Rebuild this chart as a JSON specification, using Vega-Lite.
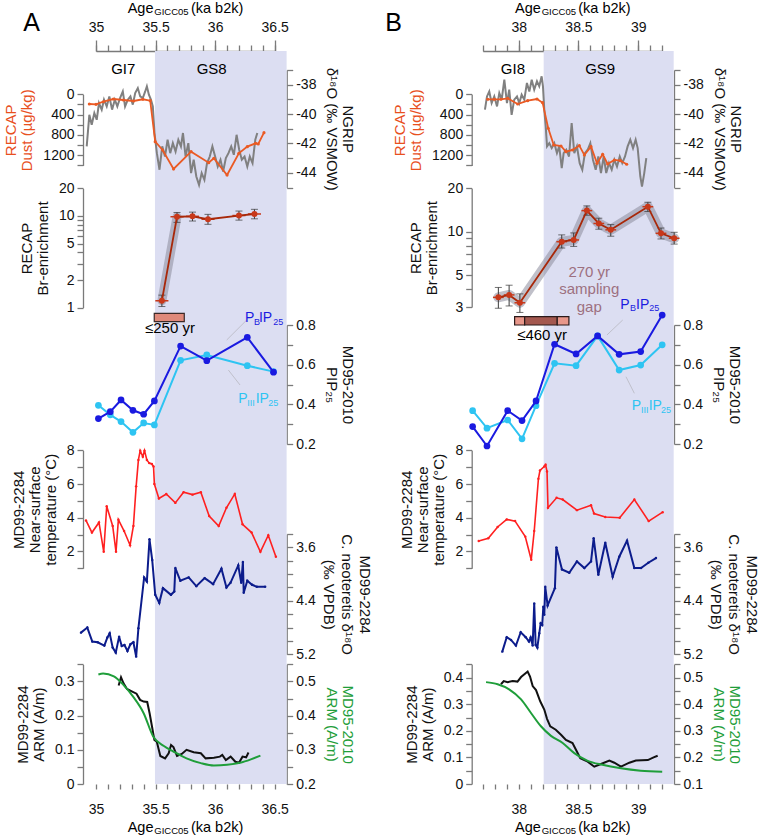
{
"$schema":"https://vega.github.io/schema/vega-lite/v6.json",
"width":591,"height":733,
"autosize":{"type":"none"},
"padding":{"left":83,"top":51,"right":88,"bottom":52},
"background":"white",
"config":{"view":{"stroke":null},
"axis":{"grid":false,"labelFont":"Liberation Sans","titleFont":"Liberation Sans","labelFontSize":14,"titleFontSize":15,"titleFontWeight":"normal","labelColor":"#111","titleColor":"#111","domainColor":"#7a7a7a","tickColor":"#7a7a7a","domainWidth":1.3,"tickWidth":1.3,"tickSize":6,"labelPadding":3,"titlePadding":8,"labelFlush":false,"labelOverlap":false,"labelBound":false,"titleLineHeight":16},
"text":{"font":"Liberation Sans"}},
"resolve":{"scale":{"x":"independent","y":"independent"},"axis":{"x":"independent","y":"independent"}},
"layer":[
{"data":{"values":[{"x":35.495,"x2":36.6}]},"mark":{"type":"rect","color":"#dcdef2"},"encoding":{"x":{"field":"x","type":"quantitative","scale":{"domain":[35,36.5],"range":[13,191.7],"nice":false,"zero":false},"axis":null},"x2":{"field":"x2"}}},
{"data":{"values":[{"x":38.209,"x2":39.296}]},"mark":{"type":"rect","color":"#dcdef2"},"encoding":{"x":{"field":"x","type":"quantitative","scale":{"domain":[37.7,39.2],"range":[399.8,579.2],"nice":false,"zero":false},"axis":null},"x2":{"field":"x2"}}},

{"data":{"values":[{"t":"A","x":34.46,"y":-33.82}]},"mark":{"type":"text","fontSize":25,"baseline":"middle","align":"center"},"encoding":{"x":{"field":"x","type":"quantitative","scale":{"domain":[35,36.5],"range":[13,191.7],"nice":false,"zero":false},"axis":null},"y":{"field":"y","type":"quantitative","scale":{"domain":[-45,-37],"range":[136.5,19],"nice":false,"zero":false},"axis":null},"text":{"field":"t"}}},
{"data":{"values":[{"t":"B","x":36.954,"y":-33.82}]},"mark":{"type":"text","fontSize":25,"baseline":"middle","align":"center"},"encoding":{"x":{"field":"x","type":"quantitative","scale":{"domain":[37.7,39.2],"range":[399.8,579.2],"nice":false,"zero":false},"axis":null},"y":{"field":"y","type":"quantitative","scale":{"domain":[-45,-37],"range":[136.5,19],"nice":false,"zero":false},"axis":null},"text":{"field":"t"}}},

{"data":{"values":[{"t":"GI7","x":35.229,"y":-36.932},{"t":"GS8","x":35.971,"y":-36.932}]},"mark":{"type":"text","fontSize":15,"baseline":"middle","align":"center"},"encoding":{"x":{"field":"x","type":"quantitative","scale":{"domain":[35,36.5],"range":[13,191.7],"nice":false,"zero":false},"axis":{"orient":"top","values":[35,35.5,36,36.5],"tickSize":11,"labelPadding":6,"title":null,"labelExpr":"format(datum.value,'~g')"}},"y":{"field":"y","type":"quantitative","scale":{"domain":[-45,-37],"range":[136.5,19],"nice":false,"zero":false},"axis":null},"text":{"field":"t"}}},
{"data":{"values":[{"t":"Age","x":35.266,"y":-33.1},{"t":"(ka b2k)","x":35.797,"y":-33.1}]},"mark":{"type":"text","fontSize":14.5,"baseline":"alphabetic","align":"left"},"encoding":{"x":{"field":"x","type":"quantitative","scale":{"domain":[35,36.5],"range":[13,191.7],"nice":false,"zero":false},"axis":{"orient":"top","values":[35,35.1,35.2,35.3,35.4,35.5,35.6,35.7,35.8,35.9,36,36.1,36.2,36.3,36.4,36.5],"tickSize":6,"labels":false,"domain":false,"title":null}},"y":{"field":"y","type":"quantitative","scale":{"domain":[-45,-37],"range":[136.5,19],"nice":false,"zero":false},"axis":null},"text":{"field":"t"}}},
{"data":{"values":[{"t":"GICC05","x":35.489,"y":-33.255}]},"mark":{"type":"text","fontSize":9.5,"baseline":"alphabetic","align":"left"},"encoding":{"x":{"field":"x","type":"quantitative","scale":{"domain":[35,36.5],"range":[13,191.7],"nice":false,"zero":false},"axis":null},"y":{"field":"y","type":"quantitative","scale":{"domain":[-45,-37],"range":[136.5,19],"nice":false,"zero":false},"axis":null},"text":{"field":"t"}}},
{"data":{"values":[{"t":"Age","x":35.266,"y":-0.1395},{"t":"(ka b2k)","x":35.797,"y":-0.1395}]},"mark":{"type":"text","fontSize":14.5,"baseline":"alphabetic","align":"left"},"encoding":{"x":{"field":"x","type":"quantitative","scale":{"domain":[35,36.5],"range":[13,191.7],"nice":false,"zero":false},"axis":{"orient":"bottom","values":[35,35.1,35.2,35.3,35.4,35.5,35.6,35.7,35.8,35.9,36,36.1,36.2,36.3,36.4,36.5],"tickSize":5,"labelPadding":13,"domain":false,"title":null,"labelExpr":"indexof([35,35.5,36,36.5], datum.value) >= 0 ? format(datum.value,'~g') : ''"}},"y":{"field":"y","type":"quantitative","scale":{"domain":[0,0.35],"range":[733,613.3],"nice":false,"zero":false},"axis":null},"text":{"field":"t"}}},
{"data":{"values":[{"t":"GICC05","x":35.489,"y":-0.1462}]},"mark":{"type":"text","fontSize":9.5,"baseline":"alphabetic","align":"left"},"encoding":{"x":{"field":"x","type":"quantitative","scale":{"domain":[35,36.5],"range":[13,191.7],"nice":false,"zero":false},"axis":null},"y":{"field":"y","type":"quantitative","scale":{"domain":[0,0.35],"range":[733,613.3],"nice":false,"zero":false},"axis":null},"text":{"field":"t"}}},

{"data":{"values":[{"t":"GI8","x":37.952,"y":-36.932},{"t":"GS9","x":38.681,"y":-36.932}]},"mark":{"type":"text","fontSize":15,"baseline":"middle","align":"center"},"encoding":{"x":{"field":"x","type":"quantitative","scale":{"domain":[37.7,39.2],"range":[399.8,579.2],"nice":false,"zero":false},"axis":{"orient":"top","values":[38,38.5,39],"tickSize":11,"labelPadding":6,"title":null,"labelExpr":"format(datum.value,'~g')"}},"y":{"field":"y","type":"quantitative","scale":{"domain":[-45,-37],"range":[136.5,19],"nice":false,"zero":false},"axis":null},"text":{"field":"t"}}},
{"data":{"values":[{"t":"Age","x":37.969,"y":-33.1},{"t":"(ka b2k)","x":38.498,"y":-33.1}]},"mark":{"type":"text","fontSize":14.5,"baseline":"alphabetic","align":"left"},"encoding":{"x":{"field":"x","type":"quantitative","scale":{"domain":[37.7,39.2],"range":[399.8,579.2],"nice":false,"zero":false},"axis":{"orient":"top","values":[37.7,37.8,37.9,38,38.1,38.2,38.3,38.4,38.5,38.6,38.7,38.8,38.9,39,39.1,39.2],"tickSize":6,"labels":false,"domain":false,"title":null}},"y":{"field":"y","type":"quantitative","scale":{"domain":[-45,-37],"range":[136.5,19],"nice":false,"zero":false},"axis":null},"text":{"field":"t"}}},
{"data":{"values":[{"t":"GICC05","x":38.192,"y":-33.255}]},"mark":{"type":"text","fontSize":9.5,"baseline":"alphabetic","align":"left"},"encoding":{"x":{"field":"x","type":"quantitative","scale":{"domain":[37.7,39.2],"range":[399.8,579.2],"nice":false,"zero":false},"axis":null},"y":{"field":"y","type":"quantitative","scale":{"domain":[-45,-37],"range":[136.5,19],"nice":false,"zero":false},"axis":null},"text":{"field":"t"}}},
{"data":{"values":[{"t":"Age","x":37.969,"y":-0.1793},{"t":"(ka b2k)","x":38.498,"y":-0.1793}]},"mark":{"type":"text","fontSize":14.5,"baseline":"alphabetic","align":"left"},"encoding":{"x":{"field":"x","type":"quantitative","scale":{"domain":[37.7,39.2],"range":[399.8,579.2],"nice":false,"zero":false},"axis":{"orient":"bottom","values":[37.7,37.8,37.9,38,38.1,38.2,38.3,38.4,38.5,38.6,38.7,38.8,38.9,39,39.1,39.2],"tickSize":5,"labelPadding":13,"domain":false,"title":null,"labelExpr":"indexof([38,38.5,39], datum.value) >= 0 ? format(datum.value,'~g') : ''"}},"y":{"field":"y","type":"quantitative","scale":{"domain":[0,0.45],"range":[733,613.3],"nice":false,"zero":false},"axis":null},"text":{"field":"t"}}},
{"data":{"values":[{"t":"GICC05","x":38.192,"y":-0.188}]},"mark":{"type":"text","fontSize":9.5,"baseline":"alphabetic","align":"left"},"encoding":{"x":{"field":"x","type":"quantitative","scale":{"domain":[37.7,39.2],"range":[399.8,579.2],"nice":false,"zero":false},"axis":null},"y":{"field":"y","type":"quantitative","scale":{"domain":[0,0.45],"range":[733,613.3],"nice":false,"zero":false},"axis":null},"text":{"field":"t"}}},

{"data":{"values":[{"x":34.922,"y":-42.2},{"x":34.944,"y":-40.05},{"x":34.964,"y":-40.73},{"x":34.986,"y":-39.93},{"x":35.006,"y":-40.39},{"x":35.025,"y":-39.25},{"x":35.048,"y":-39.7},{"x":35.067,"y":-39.02},{"x":35.09,"y":-39.48},{"x":35.112,"y":-38.8},{"x":35.135,"y":-39.7},{"x":35.158,"y":-39.02},{"x":35.179,"y":-39.48},{"x":35.202,"y":-38.91},{"x":35.225,"y":-38.46},{"x":35.244,"y":-39.48},{"x":35.267,"y":-39.02},{"x":35.289,"y":-38.8},{"x":35.309,"y":-39.36},{"x":35.329,"y":-38.57},{"x":35.351,"y":-38.23},{"x":35.371,"y":-38.8},{"x":35.393,"y":-38.91},{"x":35.413,"y":-38.46},{"x":35.427,"y":-38.11},{"x":35.444,"y":-38.68},{"x":35.461,"y":-39.02},{"x":35.477,"y":-39.48},{"x":35.491,"y":-41.29},{"x":35.511,"y":-42.66},{"x":35.533,"y":-43.79},{"x":35.556,"y":-42.2},{"x":35.579,"y":-42.89},{"x":35.601,"y":-41.75},{"x":35.623,"y":-42.66},{"x":35.645,"y":-41.98},{"x":35.668,"y":-42.55},{"x":35.691,"y":-41.75},{"x":35.713,"y":-42.2},{"x":35.73,"y":-41.29},{"x":35.752,"y":-42.89},{"x":35.775,"y":-41.98},{"x":35.798,"y":-44.02},{"x":35.82,"y":-43.11},{"x":35.842,"y":-44.25},{"x":35.865,"y":-44.82},{"x":35.887,"y":-44.02},{"x":35.91,"y":-44.48},{"x":35.932,"y":-43.34},{"x":35.955,"y":-42.89},{"x":35.977,"y":-42.2},{"x":36.0,"y":-42.89},{"x":36.022,"y":-43.57},{"x":36.045,"y":-43.11},{"x":36.067,"y":-43.91},{"x":36.09,"y":-43.0},{"x":36.112,"y":-42.66},{"x":36.135,"y":-42.2},{"x":36.157,"y":-42.77},{"x":36.18,"y":-41.41},{"x":36.202,"y":-42.43},{"x":36.224,"y":-43.11},{"x":36.247,"y":-42.89},{"x":36.27,"y":-43.57},{"x":36.291,"y":-42.89},{"x":36.314,"y":-43.34},{"x":36.337,"y":-41.75},{"x":36.354,"y":-41.29}]},
 "mark":{"type":"line","color":"#808080","strokeWidth":2},
 "encoding":{"x":{"field":"x","type":"quantitative","scale":{"domain":[35,36.5],"range":[13,191.7],"nice":false,"zero":false},"axis":null},"y":{"field":"y","type":"quantitative","scale":{"domain":[-45,-37],"range":[136.5,19],"nice":false,"zero":false},"axis":{"orient":"right","offset":-387.3,"values":[-45,-44,-43,-42,-41,-40,-39,-38,-37],"labelExpr":"datum.value % 2 === 0 ? replace(format(datum.value,'~g'),'\u2212','-') : ''","title":["NGRIP","δ¹⁸O (‰ VSMOW)"]}}}},
{"data":{"values":[{"x":34.944,"y":191},{"x":35.0,"y":197},{"x":35.062,"y":146},{"x":35.146,"y":93},{"x":35.23,"y":112},{"x":35.315,"y":132},{"x":35.393,"y":98},{"x":35.455,"y":126},{"x":35.497,"y":933},{"x":35.559,"y":1096},{"x":35.651,"y":1470},{"x":35.798,"y":1130},{"x":35.946,"y":1346},{"x":35.989,"y":1260},{"x":36.1,"y":1589},{"x":36.199,"y":1161},{"x":36.27,"y":1031},{"x":36.34,"y":965},{"x":36.362,"y":978},{"x":36.41,"y":756}]},
 "mark":{"type":"line","color":"#ea5a24","strokeWidth":1.8,"point":{"filled":true,"size":10,"color":"#ea5a24"}},
 "encoding":{"x":{"field":"x","type":"quantitative","scale":{"domain":[35,36.5],"range":[13,191.7],"nice":false,"zero":false},"axis":null},"y":{"field":"y","type":"quantitative","scale":{"domain":[0,1400],"range":[43.3,114.4],"nice":false,"zero":false},"axis":{"orient":"left","values":[0,200,400,600,800,1000,1200,1400],"labelExpr":"datum.value % 400 === 0 && datum.value < 1400 ? format(datum.value,'d') : ''","title":["RECAP","Dust (µg/kg)"],"titleColor":"#e8501e"}}}},

{"data":{"values":[{"x":37.718,"y":-39.7},{"x":37.735,"y":-38.8},{"x":37.754,"y":-38.46},{"x":37.774,"y":-39.25},{"x":37.796,"y":-38.8},{"x":37.819,"y":-39.48},{"x":37.838,"y":-38.57},{"x":37.858,"y":-39.02},{"x":37.88,"y":-37.66},{"x":37.902,"y":-39.25},{"x":37.921,"y":-38.34},{"x":37.941,"y":-40.05},{"x":37.963,"y":-39.02},{"x":37.986,"y":-38.8},{"x":38.005,"y":-39.25},{"x":38.025,"y":-38.68},{"x":38.047,"y":-39.02},{"x":38.069,"y":-37.88},{"x":38.089,"y":-38.46},{"x":38.109,"y":-37.66},{"x":38.13,"y":-38.34},{"x":38.153,"y":-37.77},{"x":38.172,"y":-38.11},{"x":38.192,"y":-37.43},{"x":38.203,"y":-38.11},{"x":38.214,"y":-39.7},{"x":38.226,"y":-40.84},{"x":38.237,"y":-42.2},{"x":38.256,"y":-41.98},{"x":38.276,"y":-42.32},{"x":38.298,"y":-41.98},{"x":38.32,"y":-42.66},{"x":38.339,"y":-42.2},{"x":38.36,"y":-43.68},{"x":38.376,"y":-42.66},{"x":38.398,"y":-42.43},{"x":38.421,"y":-42.89},{"x":38.443,"y":-40.61},{"x":38.465,"y":-42.66},{"x":38.487,"y":-42.2},{"x":38.51,"y":-43.34},{"x":38.532,"y":-43.79},{"x":38.554,"y":-42.66},{"x":38.577,"y":-42.43},{"x":38.599,"y":-41.98},{"x":38.621,"y":-43.11},{"x":38.644,"y":-43.79},{"x":38.666,"y":-42.89},{"x":38.688,"y":-44.02},{"x":38.711,"y":-42.89},{"x":38.732,"y":-44.02},{"x":38.755,"y":-43.34},{"x":38.778,"y":-43.79},{"x":38.8,"y":-43.11},{"x":38.822,"y":-43.57},{"x":38.845,"y":-42.89},{"x":38.866,"y":-43.34},{"x":38.889,"y":-42.89},{"x":38.911,"y":-42.2},{"x":38.933,"y":-41.75},{"x":38.956,"y":-42.32},{"x":38.978,"y":-41.75},{"x":38.995,"y":-42.32},{"x":39.017,"y":-44.25},{"x":39.031,"y":-44.93},{"x":39.05,"y":-44.02},{"x":39.067,"y":-43.0}]},
 "mark":{"type":"line","color":"#808080","strokeWidth":2},
 "encoding":{"x":{"field":"x","type":"quantitative","scale":{"domain":[37.7,39.2],"range":[399.8,579.2],"nice":false,"zero":false},"axis":null},"y":{"field":"y","type":"quantitative","scale":{"domain":[-45,-37],"range":[136.5,19],"nice":false,"zero":false},"axis":{"orient":"right","values":[-45,-44,-43,-42,-41,-40,-39,-38,-37],"labelExpr":"datum.value % 2 === 0 ? replace(format(datum.value,'~g'),'\u2212','-') : ''","title":["NGRIP","δ¹⁸O (‰ VSMOW)"]}}}},
{"data":{"values":[{"x":37.741,"y":98},{"x":37.796,"y":98},{"x":37.852,"y":98},{"x":37.908,"y":79},{"x":37.992,"y":191},{"x":38.075,"y":126},{"x":38.153,"y":93},{"x":38.2,"y":165},{"x":38.247,"y":669},{"x":38.293,"y":998},{"x":38.354,"y":1018},{"x":38.395,"y":1130},{"x":38.45,"y":1096},{"x":38.507,"y":1012},{"x":38.549,"y":1195},{"x":38.605,"y":1031},{"x":38.655,"y":1358},{"x":38.702,"y":1181},{"x":38.744,"y":1372},{"x":38.8,"y":1293},{"x":38.85,"y":1307},{"x":38.903,"y":1378}]},
 "mark":{"type":"line","color":"#ea5a24","strokeWidth":1.8,"point":{"filled":true,"size":10,"color":"#ea5a24"}},
 "encoding":{"x":{"field":"x","type":"quantitative","scale":{"domain":[37.7,39.2],"range":[399.8,579.2],"nice":false,"zero":false},"axis":null},"y":{"field":"y","type":"quantitative","scale":{"domain":[0,1400],"range":[43.3,114.4],"nice":false,"zero":false},"axis":{"orient":"left","offset":-388.7,"values":[0,200,400,600,800,1000,1200,1400],"labelExpr":"datum.value % 400 === 0 && datum.value < 1400 ? format(datum.value,'d') : ''","title":["RECAP","Dust (µg/kg)"],"titleColor":"#e8501e"}}}},

{"data":{"values":[{"x":35.553,"y":1.19,"lo":1.03,"hi":1.37,"xlo":35.498,"xhi":35.608},{"x":35.68,"y":9.8,"lo":8.5,"hi":10.9,"xlo":35.625,"xhi":35.735},{"x":35.81,"y":9.9,"lo":8.8,"hi":11.0,"xlo":35.755,"xhi":35.865},{"x":35.94,"y":9.2,"lo":8.1,"hi":10.4,"xlo":35.885,"xhi":35.995},{"x":36.2,"y":10.1,"lo":9.0,"hi":11.3,"xlo":36.145,"xhi":36.255},{"x":36.33,"y":10.5,"lo":9.3,"hi":11.8,"xlo":36.275,"xhi":36.385}]},
 "layer":[
 {"transform":[{"filter":"datum.x < 35.7"}],"mark":{"type":"line","color":"#8c8c9c","opacity":0.55,"strokeWidth":9,"strokeCap":"round"},"encoding":{"x":{"field":"x","type":"quantitative","scale":{"domain":[35,36.5],"range":[13,191.7],"nice":false,"zero":false},"axis":null},"y":{"field":"y","type":"quantitative","scale":{"type":"log","domain":[1,20],"range":[256.7,137.3],"nice":false},"axis":null}}},
 {"mark":{"type":"rule","color":"#3a3a3a","strokeWidth":1},"encoding":{"x":{"field":"x","type":"quantitative","scale":{"domain":[35,36.5],"range":[13,191.7],"nice":false,"zero":false},"axis":null},"y":{"field":"lo","type":"quantitative","scale":{"type":"log","domain":[1,20],"range":[256.7,137.3],"nice":false},"axis":null},"y2":{"field":"hi"}}},
 {"mark":{"type":"point","shape":"stroke","size":49,"color":"#3a3a3a","strokeWidth":1},"encoding":{"x":{"field":"x","type":"quantitative","scale":{"domain":[35,36.5],"range":[13,191.7],"nice":false,"zero":false},"axis":null},"y":{"field":"lo","type":"quantitative","scale":{"type":"log","domain":[1,20],"range":[256.7,137.3],"nice":false},"axis":null}}},
 {"mark":{"type":"point","shape":"stroke","size":49,"color":"#3a3a3a","strokeWidth":1},"encoding":{"x":{"field":"x","type":"quantitative","scale":{"domain":[35,36.5],"range":[13,191.7],"nice":false,"zero":false},"axis":null},"y":{"field":"hi","type":"quantitative","scale":{"type":"log","domain":[1,20],"range":[256.7,137.3],"nice":false},"axis":null}}},
 {"mark":{"type":"rule","color":"#c8381a","strokeWidth":1.5},"encoding":{"x":{"field":"xlo","type":"quantitative","scale":{"domain":[35,36.5],"range":[13,191.7],"nice":false,"zero":false},"axis":null},"x2":{"field":"xhi"},"y":{"field":"y","type":"quantitative","scale":{"type":"log","domain":[1,20],"range":[256.7,137.3],"nice":false},"axis":null}}},
 {"mark":{"type":"line","color":"#a8280a","strokeWidth":1.8,"point":{"filled":true,"size":36,"color":"#c8381a"}},"encoding":{"x":{"field":"x","type":"quantitative","scale":{"domain":[35,36.5],"range":[13,191.7],"nice":false,"zero":false},"axis":null},"y":{"field":"y","type":"quantitative","scale":{"type":"log","domain":[1,20],"range":[256.7,137.3],"nice":false},"axis":{"orient":"left","values":[1,2,3,4,5,6,7,8,9,10,20],"labelExpr":"indexof([1,2,5,10,20], datum.value) >= 0 ? format(datum.value,'d') : ''","title":["RECAP","Br-enrichment"]}}}}
 ],
 "resolve":{"scale":{"x":"independent","y":"independent"},"axis":{"x":"independent","y":"independent"}}},

{"data":{"values":[{"x":37.83,"y":3.5,"lo":2.94,"hi":4.1,"xlo":37.785,"xhi":37.875},{"x":37.92,"y":3.64,"lo":3.05,"hi":4.25,"xlo":37.875,"xhi":37.965},{"x":38.01,"y":3.21,"lo":2.75,"hi":3.7,"xlo":37.965,"xhi":38.055},{"x":38.36,"y":8.52,"lo":7.7,"hi":9.5,"xlo":38.315,"xhi":38.405},{"x":38.46,"y":8.76,"lo":7.9,"hi":9.8,"xlo":38.415,"xhi":38.505},{"x":38.57,"y":14.0,"lo":13.0,"hi":15.1,"xlo":38.525,"xhi":38.615},{"x":38.67,"y":11.4,"lo":10.4,"hi":12.4,"xlo":38.625,"xhi":38.715},{"x":38.77,"y":10.3,"lo":9.3,"hi":11.2,"xlo":38.725,"xhi":38.815},{"x":39.08,"y":14.9,"lo":13.8,"hi":16.0,"xlo":39.035,"xhi":39.125},{"x":39.19,"y":9.74,"lo":8.9,"hi":10.6,"xlo":39.145,"xhi":39.235},{"x":39.3,"y":9.0,"lo":8.2,"hi":9.9,"xlo":39.255,"xhi":39.345}]},
 "layer":[
 {"mark":{"type":"line","color":"#8c8c9c","opacity":0.55,"strokeWidth":10,"strokeCap":"round","strokeJoin":"round"},"encoding":{"x":{"field":"x","type":"quantitative","scale":{"domain":[37.7,39.2],"range":[399.8,579.2],"nice":false,"zero":false},"axis":null},"y":{"field":"y","type":"quantitative","scale":{"type":"log","domain":[3,20],"range":[256,137.3],"nice":false},"axis":null}}},
 {"mark":{"type":"rule","color":"#3a3a3a","strokeWidth":1},"encoding":{"x":{"field":"x","type":"quantitative","scale":{"domain":[37.7,39.2],"range":[399.8,579.2],"nice":false,"zero":false},"axis":null},"y":{"field":"lo","type":"quantitative","scale":{"type":"log","domain":[3,20],"range":[256,137.3],"nice":false},"axis":null},"y2":{"field":"hi"}}},
 {"mark":{"type":"point","shape":"stroke","size":49,"color":"#3a3a3a","strokeWidth":1},"encoding":{"x":{"field":"x","type":"quantitative","scale":{"domain":[37.7,39.2],"range":[399.8,579.2],"nice":false,"zero":false},"axis":null},"y":{"field":"lo","type":"quantitative","scale":{"type":"log","domain":[3,20],"range":[256,137.3],"nice":false},"axis":null}}},
 {"mark":{"type":"point","shape":"stroke","size":49,"color":"#3a3a3a","strokeWidth":1},"encoding":{"x":{"field":"x","type":"quantitative","scale":{"domain":[37.7,39.2],"range":[399.8,579.2],"nice":false,"zero":false},"axis":null},"y":{"field":"hi","type":"quantitative","scale":{"type":"log","domain":[3,20],"range":[256,137.3],"nice":false},"axis":null}}},
 {"mark":{"type":"rule","color":"#c8381a","strokeWidth":1.5},"encoding":{"x":{"field":"xlo","type":"quantitative","scale":{"domain":[37.7,39.2],"range":[399.8,579.2],"nice":false,"zero":false},"axis":null},"x2":{"field":"xhi"},"y":{"field":"y","type":"quantitative","scale":{"type":"log","domain":[3,20],"range":[256,137.3],"nice":false},"axis":null}}},
 {"mark":{"type":"line","color":"#a8280a","strokeWidth":1.8,"point":{"filled":true,"size":36,"color":"#c8381a"}},"encoding":{"x":{"field":"x","type":"quantitative","scale":{"domain":[37.7,39.2],"range":[399.8,579.2],"nice":false,"zero":false},"axis":null},"y":{"field":"y","type":"quantitative","scale":{"type":"log","domain":[3,20],"range":[256,137.3],"nice":false},"axis":{"orient":"left","offset":-388.7,"values":[3,4,5,6,7,8,9,10,20],"labelExpr":"indexof([3,5,10,20], datum.value) >= 0 ? format(datum.value,'d') : ''","title":["RECAP","Br-enrichment"]}}}}
 ],
 "resolve":{"scale":{"x":"independent","y":"independent"},"axis":{"x":"independent","y":"independent"}}},

{"data":{"values":[{"x":35.489,"x2":35.741,"y":0.859,"y2":0.8167}]},"mark":{"type":"rect","fill":"#e0897a","stroke":"#3c2a28","strokeWidth":1.2},"encoding":{"x":{"field":"x","type":"quantitative","scale":{"domain":[35,36.5],"range":[13,191.7],"nice":false,"zero":false},"axis":null},"x2":{"field":"x2"},"y":{"field":"y","type":"quantitative","scale":{"domain":[0.2,0.8],"range":[393,274],"nice":false,"zero":false},"axis":null},"y2":{"field":"y2"}}},
{"data":{"values":[{"t":"≤250 yr","x":35.621,"y":0.7834}]},"mark":{"type":"text","fontSize":15,"baseline":"middle","align":"center"},"encoding":{"x":{"field":"x","type":"quantitative","scale":{"domain":[35,36.5],"range":[13,191.7],"nice":false,"zero":false},"axis":null},"y":{"field":"y","type":"quantitative","scale":{"domain":[0.2,0.8],"range":[393,274],"nice":false,"zero":false},"axis":null},"text":{"field":"t"}}},
{"data":{"values":[{"seg":"outer","x":37.966,"x2":38.05,"y":0.8419,"y2":0.8},{"seg":"inner","x":38.05,"x2":38.3225,"y":0.8419,"y2":0.8},{"seg":"outer","x":38.3225,"x2":38.42,"y":0.8419,"y2":0.8}]},"mark":{"type":"rect","stroke":"#2a1a1a","strokeWidth":1.2,"opacity":1},"encoding":{"x":{"field":"x","type":"quantitative","scale":{"domain":[37.7,39.2],"range":[399.8,579.2],"nice":false,"zero":false},"axis":null},"x2":{"field":"x2"},"y":{"field":"y","type":"quantitative","scale":{"domain":[0.2,0.8],"range":[393,274],"nice":false,"zero":false},"axis":null},"y2":{"field":"y2"},"color":{"field":"seg","type":"nominal","scale":{"domain":["outer","inner"],"range":["#e8978a","#a4584f"]},"legend":null}}},
{"data":{"values":[{"t":"≤460 yr","x":38.196,"y":0.7496}]},"mark":{"type":"text","fontSize":15,"baseline":"middle","align":"center"},"encoding":{"x":{"field":"x","type":"quantitative","scale":{"domain":[37.7,39.2],"range":[399.8,579.2],"nice":false,"zero":false},"axis":null},"y":{"field":"y","type":"quantitative","scale":{"domain":[0.2,0.8],"range":[393,274],"nice":false,"zero":false},"axis":null},"text":{"field":"t"}}},
{"data":{"values":[{"t":"270 yr","x":38.59,"y":1.0688},{"t":"sampling","x":38.59,"y":0.98},{"t":"gap","x":38.59,"y":0.8923}]},"mark":{"type":"text","fontSize":15,"baseline":"middle","align":"center","color":"#9d7080"},"encoding":{"x":{"field":"x","type":"quantitative","scale":{"domain":[37.7,39.2],"range":[399.8,579.2],"nice":false,"zero":false},"axis":null},"y":{"field":"y","type":"quantitative","scale":{"domain":[0.2,0.8],"range":[393,274],"nice":false,"zero":false},"axis":null},"text":{"field":"t"}}},

{"data":{"values":[{"x":36.097,"x2":36.265,"y":0.7244,"y2":0.8252},{"x":36.111,"x2":36.209,"y":0.5731,"y2":0.4975}]},"mark":{"type":"rule","color":"#b8b8c0","strokeWidth":0.8},"encoding":{"x":{"field":"x","type":"quantitative","scale":{"domain":[35,36.5],"range":[13,191.7],"nice":false,"zero":false},"axis":null},"x2":{"field":"x2"},"y":{"field":"y","type":"quantitative","scale":{"domain":[0.2,0.8],"range":[393,274],"nice":false,"zero":false},"axis":null},"y2":{"field":"y2"}}},
{"data":{"values":[{"x":38.738,"x2":38.87,"y":0.7496,"y2":0.8252},{"x":38.897,"x2":38.967,"y":0.5393,"y2":0.4556}]},"mark":{"type":"rule","color":"#b8b8c0","strokeWidth":0.8},"encoding":{"x":{"field":"x","type":"quantitative","scale":{"domain":[37.7,39.2],"range":[399.8,579.2],"nice":false,"zero":false},"axis":null},"x2":{"field":"x2"},"y":{"field":"y","type":"quantitative","scale":{"domain":[0.2,0.8],"range":[393,274],"nice":false,"zero":false},"axis":null},"y2":{"field":"y2"}}},

{"data":{"values":[{"x":35.02,"y":0.395},{"x":35.12,"y":0.347},{"x":35.21,"y":0.313},{"x":35.31,"y":0.259},{"x":35.4,"y":0.306},{"x":35.49,"y":0.296},{"x":35.71,"y":0.622},{"x":35.93,"y":0.649},{"x":36.27,"y":0.595},{"x":36.49,"y":0.565}]},
 "mark":{"type":"line","color":"#2ec4f2","strokeWidth":2,"point":{"filled":true,"size":45,"color":"#2ec4f2"}},
 "encoding":{"x":{"field":"x","type":"quantitative","scale":{"domain":[35,36.5],"range":[13,191.7],"nice":false,"zero":false},"axis":null},"y":{"field":"y","type":"quantitative","scale":{"domain":[0.2,0.8],"range":[393,274],"nice":false,"zero":false},"axis":null}}},
{"data":{"values":[{"x":35.02,"y":0.328},{"x":35.12,"y":0.363},{"x":35.21,"y":0.422},{"x":35.31,"y":0.37},{"x":35.4,"y":0.35},{"x":35.49,"y":0.417},{"x":35.71,"y":0.694},{"x":35.93,"y":0.62},{"x":36.27,"y":0.738},{"x":36.49,"y":0.562}]},
 "mark":{"type":"line","color":"#1a1ae0","strokeWidth":2,"point":{"filled":true,"size":45,"color":"#1a1ae0"}},
 "encoding":{"x":{"field":"x","type":"quantitative","scale":{"domain":[35,36.5],"range":[13,191.7],"nice":false,"zero":false},"axis":null},"y":{"field":"y","type":"quantitative","scale":{"domain":[0.2,0.8],"range":[393,274],"nice":false,"zero":false},"axis":{"orient":"right","offset":-387.3,"values":[0.2,0.3,0.4,0.5,0.6,0.7,0.8],"labelExpr":"indexof([0.2,0.4,0.6,0.8], datum.value) >= 0 ? format(datum.value,'.1f') : ''","title":["MD95-2010","PIP₂₅"]}}}},
{"data":{"values":[{"x":37.615,"y":0.368},{"x":37.735,"y":0.28},{"x":37.908,"y":0.321},{"x":38.028,"y":0.226},{"x":38.145,"y":0.393},{"x":38.3,"y":0.607},{"x":38.48,"y":0.595},{"x":38.66,"y":0.745},{"x":38.84,"y":0.573},{"x":39.02,"y":0.598},{"x":39.2,"y":0.7}]},
 "mark":{"type":"line","color":"#2ec4f2","strokeWidth":2,"point":{"filled":true,"size":45,"color":"#2ec4f2"}},
 "encoding":{"x":{"field":"x","type":"quantitative","scale":{"domain":[37.7,39.2],"range":[399.8,579.2],"nice":false,"zero":false},"axis":null},"y":{"field":"y","type":"quantitative","scale":{"domain":[0.2,0.8],"range":[393,274],"nice":false,"zero":false},"axis":null}}},
{"data":{"values":[{"x":37.615,"y":0.288},{"x":37.735,"y":0.19},{"x":37.908,"y":0.368},{"x":38.028,"y":0.318},{"x":38.145,"y":0.417},{"x":38.3,"y":0.703},{"x":38.48,"y":0.654},{"x":38.66,"y":0.745},{"x":38.84,"y":0.652},{"x":39.02,"y":0.666},{"x":39.2,"y":0.85}]},
 "mark":{"type":"line","color":"#1a1ae0","strokeWidth":2,"point":{"filled":true,"size":45,"color":"#1a1ae0"}},
 "encoding":{"x":{"field":"x","type":"quantitative","scale":{"domain":[37.7,39.2],"range":[399.8,579.2],"nice":false,"zero":false},"axis":null},"y":{"field":"y","type":"quantitative","scale":{"domain":[0.2,0.8],"range":[393,274],"nice":false,"zero":false},"axis":{"orient":"right","values":[0.2,0.3,0.4,0.5,0.6,0.7,0.8],"labelExpr":"indexof([0.2,0.4,0.6,0.8], datum.value) >= 0 ? format(datum.value,'.1f') : ''","title":["MD95-2010","PIP₂₅"]}}}},

{"data":{"values":[{"t":"P","x":36.251,"y":0.8167},{"t":"IP","x":36.368,"y":0.8167}]},"mark":{"type":"text","fontSize":14,"align":"left","baseline":"alphabetic","color":"#1a1ae0"},"encoding":{"x":{"field":"x","type":"quantitative","scale":{"domain":[35,36.5],"range":[13,191.7],"nice":false,"zero":false},"axis":null},"y":{"field":"y","type":"quantitative","scale":{"domain":[0.2,0.8],"range":[393,274],"nice":false,"zero":false},"axis":null},"text":{"field":"t"}}},
{"data":{"values":[{"t":"B","x":36.326,"y":0.8025},{"t":"25","x":36.488,"y":0.8025}]},"mark":{"type":"text","fontSize":9,"align":"left","baseline":"alphabetic","color":"#1a1ae0"},"encoding":{"x":{"field":"x","type":"quantitative","scale":{"domain":[35,36.5],"range":[13,191.7],"nice":false,"zero":false},"axis":null},"y":{"field":"y","type":"quantitative","scale":{"domain":[0.2,0.8],"range":[393,274],"nice":false,"zero":false},"axis":null},"text":{"field":"t"}}},
{"data":{"values":[{"t":"P","x":36.195,"y":0.4052},{"t":"IP","x":36.34,"y":0.4052}]},"mark":{"type":"text","fontSize":14,"align":"left","baseline":"alphabetic","color":"#2ec4f2"},"encoding":{"x":{"field":"x","type":"quantitative","scale":{"domain":[35,36.5],"range":[13,191.7],"nice":false,"zero":false},"axis":null},"y":{"field":"y","type":"quantitative","scale":{"domain":[0.2,0.8],"range":[393,274],"nice":false,"zero":false},"axis":null},"text":{"field":"t"}}},
{"data":{"values":[{"t":"III","x":36.27,"y":0.3916},{"t":"25","x":36.446,"y":0.3916}]},"mark":{"type":"text","fontSize":9,"align":"left","baseline":"alphabetic","color":"#2ec4f2"},"encoding":{"x":{"field":"x","type":"quantitative","scale":{"domain":[35,36.5],"range":[13,191.7],"nice":false,"zero":false},"axis":null},"y":{"field":"y","type":"quantitative","scale":{"domain":[0.2,0.8],"range":[393,274],"nice":false,"zero":false},"axis":null},"text":{"field":"t"}}},
{"data":{"values":[{"t":"P","x":38.849,"y":0.8807},{"t":"IP","x":38.981,"y":0.8807}]},"mark":{"type":"text","fontSize":14,"align":"left","baseline":"alphabetic","color":"#1a1ae0"},"encoding":{"x":{"field":"x","type":"quantitative","scale":{"domain":[37.7,39.2],"range":[399.8,579.2],"nice":false,"zero":false},"axis":null},"y":{"field":"y","type":"quantitative","scale":{"domain":[0.2,0.8],"range":[393,274],"nice":false,"zero":false},"axis":null},"text":{"field":"t"}}},
{"data":{"values":[{"t":"B","x":38.931,"y":0.8681},{"t":"25","x":39.092,"y":0.8681}]},"mark":{"type":"text","fontSize":9,"align":"left","baseline":"alphabetic","color":"#1a1ae0"},"encoding":{"x":{"field":"x","type":"quantitative","scale":{"domain":[37.7,39.2],"range":[399.8,579.2],"nice":false,"zero":false},"axis":null},"y":{"field":"y","type":"quantitative","scale":{"domain":[0.2,0.8],"range":[393,274],"nice":false,"zero":false},"axis":null},"text":{"field":"t"}}},
{"data":{"values":[{"t":"P","x":38.945,"y":0.3714},{"t":"IP","x":39.087,"y":0.3714}]},"mark":{"type":"text","fontSize":14,"align":"left","baseline":"alphabetic","color":"#2ec4f2"},"encoding":{"x":{"field":"x","type":"quantitative","scale":{"domain":[37.7,39.2],"range":[399.8,579.2],"nice":false,"zero":false},"axis":null},"y":{"field":"y","type":"quantitative","scale":{"domain":[0.2,0.8],"range":[393,274],"nice":false,"zero":false},"axis":null},"text":{"field":"t"}}},
{"data":{"values":[{"t":"III","x":39.023,"y":0.3578},{"t":"25","x":39.19,"y":0.3578}]},"mark":{"type":"text","fontSize":9,"align":"left","baseline":"alphabetic","color":"#2ec4f2"},"encoding":{"x":{"field":"x","type":"quantitative","scale":{"domain":[37.7,39.2],"range":[399.8,579.2],"nice":false,"zero":false},"axis":null},"y":{"field":"y","type":"quantitative","scale":{"domain":[0.2,0.8],"range":[393,274],"nice":false,"zero":false},"axis":null},"text":{"field":"t"}}},

{"data":{"values":[{"x":34.916,"y":3.84},{"x":34.966,"y":3.12},{"x":35.025,"y":3.72},{"x":35.065,"y":1.98},{"x":35.09,"y":4.68},{"x":35.14,"y":3.51},{"x":35.168,"y":1.98},{"x":35.188,"y":3.88},{"x":35.236,"y":3.21},{"x":35.286,"y":2.37},{"x":35.314,"y":3.51},{"x":35.337,"y":5.86},{"x":35.356,"y":7.43},{"x":35.371,"y":7.98},{"x":35.393,"y":7.62},{"x":35.407,"y":7.98},{"x":35.427,"y":7.43},{"x":35.447,"y":7.24},{"x":35.469,"y":7.19},{"x":35.483,"y":7.04},{"x":35.49,"y":6.0},{"x":35.528,"y":5.14},{"x":35.59,"y":5.41},{"x":35.666,"y":4.88},{"x":35.735,"y":5.51},{"x":35.81,"y":5.37},{"x":35.88,"y":5.51},{"x":35.95,"y":4.1},{"x":36.03,"y":3.51},{"x":36.095,"y":4.59},{"x":36.165,"y":5.41},{"x":36.23,"y":3.61},{"x":36.306,"y":3.12},{"x":36.38,"y":1.98},{"x":36.446,"y":2.96},{"x":36.51,"y":1.68}]},
 "mark":{"type":"line","color":"#ff2020","strokeWidth":1.6,"point":{"filled":true,"size":6,"color":"#ff2020"}},
 "encoding":{"x":{"field":"x","type":"quantitative","scale":{"domain":[35,36.5],"range":[13,191.7],"nice":false,"zero":false},"axis":null},"y":{"field":"y","type":"quantitative","scale":{"domain":[1,8],"range":[517.3,399.3],"nice":false,"zero":false},"axis":{"orient":"left","values":[1,2,3,4,5,6,7,8],"labelExpr":"datum.value % 2 === 0 ? format(datum.value,'d') : ''","title":["MD99-2284","Near-surface","temperature (°C)"]}}}},
{"data":{"values":[{"x":37.666,"y":2.62},{"x":37.746,"y":2.78},{"x":37.824,"y":3.45},{"x":37.9,"y":3.9},{"x":37.97,"y":3.8},{"x":38.055,"y":2.88},{"x":38.105,"y":1.51},{"x":38.13,"y":3.21},{"x":38.165,"y":6.31},{"x":38.178,"y":6.8},{"x":38.214,"y":7.04},{"x":38.225,"y":7.14},{"x":38.237,"y":6.74},{"x":38.245,"y":4.59},{"x":38.317,"y":5.18},{"x":38.368,"y":5.08},{"x":38.487,"y":4.45},{"x":38.605,"y":4.74},{"x":38.63,"y":4.25},{"x":38.724,"y":4.04},{"x":38.845,"y":4.0},{"x":38.967,"y":5.08},{"x":39.087,"y":3.8},{"x":39.204,"y":4.33}]},
 "mark":{"type":"line","color":"#ff2020","strokeWidth":1.6,"point":{"filled":true,"size":6,"color":"#ff2020"}},
 "encoding":{"x":{"field":"x","type":"quantitative","scale":{"domain":[37.7,39.2],"range":[399.8,579.2],"nice":false,"zero":false},"axis":null},"y":{"field":"y","type":"quantitative","scale":{"domain":[1,8],"range":[517.3,399.3],"nice":false,"zero":false},"axis":{"orient":"left","offset":-388.7,"values":[1,2,3,4,5,6,7,8],"labelExpr":"datum.value % 2 === 0 ? format(datum.value,'d') : ''","title":["MD99-2284","Near-surface","temperature (°C)"]}}}},

{"data":{"values":[{"x":34.874,"y":4.876},{"x":34.927,"y":4.8},{"x":34.969,"y":5.01},{"x":35.014,"y":5.02},{"x":35.07,"y":5.07},{"x":35.095,"y":4.95},{"x":35.115,"y":4.885},{"x":35.14,"y":5.1},{"x":35.166,"y":5.175},{"x":35.194,"y":4.936},{"x":35.216,"y":5.075},{"x":35.239,"y":5.06},{"x":35.264,"y":5.15},{"x":35.289,"y":5.05},{"x":35.314,"y":5.02},{"x":35.337,"y":5.235},{"x":35.356,"y":4.81},{"x":35.404,"y":4.05},{"x":35.427,"y":4.11},{"x":35.449,"y":3.48},{"x":35.472,"y":3.79},{"x":35.497,"y":4.31},{"x":35.531,"y":4.43},{"x":35.562,"y":4.21},{"x":35.629,"y":4.31},{"x":35.657,"y":4.26},{"x":35.666,"y":3.91},{"x":35.708,"y":4.1},{"x":35.778,"y":4.05},{"x":35.842,"y":4.18},{"x":35.912,"y":4.06},{"x":35.983,"y":4.15},{"x":36.053,"y":3.92},{"x":36.095,"y":4.2},{"x":36.129,"y":4.13},{"x":36.194,"y":3.87},{"x":36.219,"y":4.13},{"x":36.233,"y":3.82},{"x":36.24,"y":4.28},{"x":36.27,"y":4.1},{"x":36.31,"y":4.16},{"x":36.35,"y":4.19},{"x":36.42,"y":4.19}]},
 "mark":{"type":"line","color":"#0c1c8c","strokeWidth":2,"point":{"filled":true,"size":6,"color":"#0c1c8c"}},
 "encoding":{"x":{"field":"x","type":"quantitative","scale":{"domain":[35,36.5],"range":[13,191.7],"nice":false,"zero":false},"axis":null},"y":{"field":"y","type":"quantitative","scale":{"domain":[3.4,5.2],"range":[483,603.3],"nice":false,"zero":false},"axis":{"orient":"right","offset":-387.3,"values":[3.4,3.6,3.8,4.0,4.2,4.4,4.6,4.8,5.0,5.2],"labelExpr":"indexof([3.6,4.4,5.2], datum.value) >= 0 ? format(datum.value,'.1f') : ''","title":["MD99-2284","C. neoteretis δ¹⁸O","(‰ VPDB)"],"titleLineHeight":18,"titlePadding":5}}}},
{"data":{"values":[{"x":37.863,"y":5.16},{"x":37.9,"y":4.945},{"x":37.936,"y":4.985},{"x":37.977,"y":5.07},{"x":38.017,"y":4.87},{"x":38.059,"y":4.945},{"x":38.086,"y":5.01},{"x":38.1,"y":4.95},{"x":38.117,"y":5.07},{"x":38.13,"y":4.44},{"x":38.142,"y":5.06},{"x":38.156,"y":5.1},{"x":38.172,"y":4.886},{"x":38.184,"y":4.736},{"x":38.197,"y":4.76},{"x":38.206,"y":4.49},{"x":38.214,"y":4.61},{"x":38.222,"y":4.19},{"x":38.242,"y":4.47},{"x":38.303,"y":4.21},{"x":38.315,"y":3.6},{"x":38.362,"y":3.93},{"x":38.423,"y":3.98},{"x":38.487,"y":3.81},{"x":38.549,"y":3.91},{"x":38.605,"y":3.81},{"x":38.627,"y":3.465},{"x":38.666,"y":4.01},{"x":38.724,"y":3.53},{"x":38.786,"y":4.04},{"x":38.841,"y":3.74},{"x":38.906,"y":3.5},{"x":38.967,"y":3.91},{"x":39.023,"y":3.91},{"x":39.084,"y":3.83},{"x":39.148,"y":3.76}]},
 "mark":{"type":"line","color":"#0c1c8c","strokeWidth":2,"point":{"filled":true,"size":6,"color":"#0c1c8c"}},
 "encoding":{"x":{"field":"x","type":"quantitative","scale":{"domain":[37.7,39.2],"range":[399.8,579.2],"nice":false,"zero":false},"axis":null},"y":{"field":"y","type":"quantitative","scale":{"domain":[3.4,5.2],"range":[483,603.3],"nice":false,"zero":false},"axis":{"orient":"right","values":[3.4,3.6,3.8,4.0,4.2,4.4,4.6,4.8,5.0,5.2],"labelExpr":"indexof([3.6,4.4,5.2], datum.value) >= 0 ? format(datum.value,'.1f') : ''","title":["MD99-2284","C. neoteretis δ¹⁸O","(‰ VPDB)"],"titleLineHeight":18,"titlePadding":5}}}},

{"data":{"values":[{"x":35.19,"y":0.288},{"x":35.21,"y":0.312},{"x":35.23,"y":0.295},{"x":35.26,"y":0.278},{"x":35.3,"y":0.271},{"x":35.34,"y":0.264},{"x":35.37,"y":0.246},{"x":35.4,"y":0.241},{"x":35.43,"y":0.24},{"x":35.45,"y":0.207},{"x":35.47,"y":0.168},{"x":35.49,"y":0.129},{"x":35.51,"y":0.124},{"x":35.54,"y":0.082},{"x":35.58,"y":0.075},{"x":35.61,"y":0.09},{"x":35.63,"y":0.114},{"x":35.65,"y":0.108},{"x":35.68,"y":0.082},{"x":35.72,"y":0.088},{"x":35.76,"y":0.1},{"x":35.82,"y":0.093},{"x":35.88,"y":0.09},{"x":35.92,"y":0.075},{"x":35.99,"y":0.077},{"x":36.04,"y":0.08},{"x":36.06,"y":0.085},{"x":36.09,"y":0.07},{"x":36.13,"y":0.08},{"x":36.17,"y":0.065},{"x":36.2,"y":0.062},{"x":36.23,"y":0.08},{"x":36.26,"y":0.078},{"x":36.28,"y":0.092}]},
 "mark":{"type":"line","color":"#111111","strokeWidth":2},
 "encoding":{"x":{"field":"x","type":"quantitative","scale":{"domain":[35,36.5],"range":[13,191.7],"nice":false,"zero":false},"axis":null},"y":{"field":"y","type":"quantitative","scale":{"domain":[0,0.35],"range":[733,613.3],"nice":false,"zero":false},"axis":{"orient":"left","values":[0,0.05,0.1,0.15,0.2,0.25,0.3,0.35],"labelExpr":"indexof([0,0.1,0.2,0.3], datum.value) >= 0 ? format(datum.value,'~g') : ''","title":["MD99-2284","ARM (A/m)"]}}}},
{"data":{"values":[{"x":35.02,"y":0.52},{"x":35.06,"y":0.523},{"x":35.15,"y":0.515},{"x":35.23,"y":0.49},{"x":35.31,"y":0.456},{"x":35.4,"y":0.407},{"x":35.48,"y":0.339},{"x":35.57,"y":0.311},{"x":35.65,"y":0.295},{"x":35.76,"y":0.275},{"x":35.88,"y":0.261},{"x":35.99,"y":0.254},{"x":36.1,"y":0.256},{"x":36.21,"y":0.262},{"x":36.3,"y":0.272},{"x":36.38,"y":0.283}]},
 "mark":{"type":"line","color":"#1f9e3a","strokeWidth":2,"interpolate":"monotone"},
 "encoding":{"x":{"field":"x","type":"quantitative","scale":{"domain":[35,36.5],"range":[13,191.7],"nice":false,"zero":false},"axis":null},"y":{"field":"y","type":"quantitative","scale":{"domain":[0.2,0.55],"range":[733,613.3],"nice":false,"zero":false},"axis":{"orient":"right","offset":-387.3,"values":[0.2,0.25,0.3,0.35,0.4,0.45,0.5,0.55],"labelExpr":"indexof([0.2,0.3,0.4,0.5], datum.value) >= 0 ? format(datum.value,'.1f') : ''","title":["MD95-2010","ARM (A/m)"],"titleColor":"#1f9e3a"}}}},
{"data":{"values":[{"x":37.852,"y":0.375},{"x":37.875,"y":0.387},{"x":37.908,"y":0.383},{"x":37.95,"y":0.387},{"x":37.99,"y":0.385},{"x":38.02,"y":0.402},{"x":38.075,"y":0.423},{"x":38.095,"y":0.404},{"x":38.117,"y":0.368},{"x":38.145,"y":0.353},{"x":38.18,"y":0.311},{"x":38.214,"y":0.28},{"x":38.237,"y":0.245},{"x":38.264,"y":0.217},{"x":38.31,"y":0.204},{"x":38.354,"y":0.185},{"x":38.395,"y":0.166},{"x":38.45,"y":0.154},{"x":38.48,"y":0.128},{"x":38.515,"y":0.097},{"x":38.577,"y":0.084},{"x":38.632,"y":0.065},{"x":38.688,"y":0.075},{"x":38.758,"y":0.088},{"x":38.8,"y":0.08},{"x":38.855,"y":0.065},{"x":38.925,"y":0.08},{"x":38.98,"y":0.088},{"x":39.08,"y":0.09},{"x":39.128,"y":0.1},{"x":39.162,"y":0.106}]},
 "mark":{"type":"line","color":"#111111","strokeWidth":2},
 "encoding":{"x":{"field":"x","type":"quantitative","scale":{"domain":[37.7,39.2],"range":[399.8,579.2],"nice":false,"zero":false},"axis":null},"y":{"field":"y","type":"quantitative","scale":{"domain":[0,0.45],"range":[733,613.3],"nice":false,"zero":false},"axis":{"orient":"left","offset":-388.7,"values":[0,0.05,0.1,0.15,0.2,0.25,0.3,0.35,0.4,0.45],"labelExpr":"indexof([0,0.1,0.2,0.3,0.4], datum.value) >= 0 ? format(datum.value,'~g') : ''","title":["MD99-2284","ARM (A/m)"]}}}},
{"data":{"values":[{"x":37.727,"y":0.483},{"x":37.824,"y":0.475},{"x":37.92,"y":0.456},{"x":38.02,"y":0.418},{"x":38.103,"y":0.367},{"x":38.186,"y":0.317},{"x":38.27,"y":0.281},{"x":38.368,"y":0.254},{"x":38.465,"y":0.216},{"x":38.577,"y":0.187},{"x":38.7,"y":0.172},{"x":38.855,"y":0.159},{"x":39.02,"y":0.15},{"x":39.2,"y":0.146}]},
 "mark":{"type":"line","color":"#1f9e3a","strokeWidth":2,"interpolate":"monotone"},
 "encoding":{"x":{"field":"x","type":"quantitative","scale":{"domain":[37.7,39.2],"range":[399.8,579.2],"nice":false,"zero":false},"axis":null},"y":{"field":"y","type":"quantitative","scale":{"domain":[0.1,0.55],"range":[733,613.3],"nice":false,"zero":false},"axis":{"orient":"right","values":[0.1,0.15,0.2,0.25,0.3,0.35,0.4,0.45,0.5,0.55],"labelExpr":"indexof([0.1,0.2,0.3,0.4,0.5], datum.value) >= 0 ? format(datum.value,'.1f') : ''","title":["MD95-2010","ARM (A/m)"],"titleColor":"#1f9e3a"}}}}
]
}
